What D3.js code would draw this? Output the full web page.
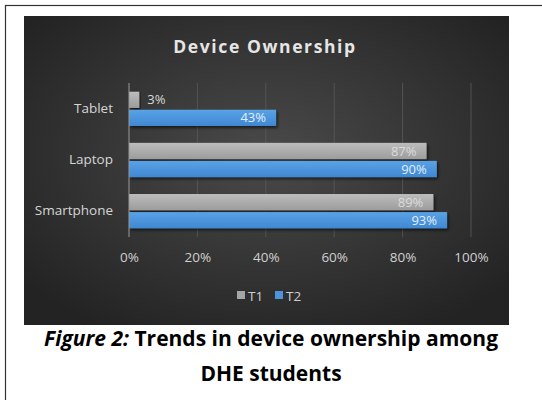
<!DOCTYPE html>
<html>
<head>
<meta charset="utf-8">
<script src="https://cdn.jsdelivr.net/npm/d3@7"></script>
<style>
  html, body { margin: 0; padding: 0; background: #fff; }
  svg { display: block; }
</style>
</head>
<body>
<div id="chart"></div>
<script>
// Data
const categories = ["Tablet", "Laptop", "Smartphone"];
const seriesNames = ["T1", "T2"];
const t1Values = [0.03, 0.87, 0.89];
const t2Values = [0.43, 0.90, 0.93];
const tickValues = [0, 0.2, 0.4, 0.6, 0.8, 1.0];

const width = 542, height = 400;
const colors = { T1: "#a5a5a5", T2: "#4b94dc" };

const rows = categories.map((c, i) => ({ category: c, T1: t1Values[i], T2: t2Values[i] }));

const svg = d3.select("#chart").append("svg")
    .attr("width", width)
    .attr("height", height)
    .attr("font-family", "'Open Sans', sans-serif");

const defs = svg.append("defs");

// dark chart background
const bg = defs.append("radialGradient")
    .attr("id", "bg").attr("cx", "50%").attr("cy", "45%").attr("r", "65%");
bg.append("stop").attr("offset", "0%").attr("stop-color", "#4a4a4a");
bg.append("stop").attr("offset", "100%").attr("stop-color", "#232323");

const gT1 = defs.append("linearGradient").attr("id", "gT1").attr("x1", 0).attr("x2", 0).attr("y1", 0).attr("y2", 1);
gT1.append("stop").attr("offset", "0%").attr("stop-color", "#bdbdbd");
gT1.append("stop").attr("offset", "100%").attr("stop-color", "#9c9c9c");
const gT2 = defs.append("linearGradient").attr("id", "gT2").attr("x1", 0).attr("x2", 0).attr("y1", 0).attr("y2", 1);
gT2.append("stop").attr("offset", "0%").attr("stop-color", "#5aa2e6");
gT2.append("stop").attr("offset", "100%").attr("stop-color", "#3f88d2");

const shadow = defs.append("filter").attr("id", "shadow")
    .attr("x", "-5%").attr("y", "-20%").attr("width", "115%").attr("height", "160%");
shadow.append("feDropShadow")
    .attr("dx", 1.5).attr("dy", 2).attr("stdDeviation", 1.5)
    .attr("flood-color", "#000").attr("flood-opacity", 0.6);

// page frame (top + left edges visible)
svg.append("rect")
    .attr("x", 5.5).attr("y", 5.5)
    .attr("width", width + 10).attr("height", height + 10)
    .attr("fill", "#fff").attr("stroke", "#333").attr("stroke-width", 1.2);

// chart area
svg.append("rect")
    .attr("x", 24).attr("y", 16)
    .attr("width", 485).attr("height", 309)
    .attr("fill", "url(#bg)");

svg.append("text")
    .attr("x", 265).attr("y", 53)
    .attr("text-anchor", "middle")
    .attr("font-size", 17.5)
    .attr("font-weight", 700)
    .attr("letter-spacing", 1.6)
    .attr("fill", "#e6e6e6")
    .text("Device Ownership");

// Scales
const x = d3.scaleLinear().domain([0, 1]).range([129, 471]);
const y = d3.scaleBand().domain(categories).range([83, 237]).paddingInner(0.33).paddingOuter(0.17);
const ySub = d3.scaleBand().domain(seriesNames).range([0, y.bandwidth()]).paddingInner(0.1);

// gridlines
svg.append("g")
    .selectAll("line")
    .data(tickValues.slice(1))
    .join("line")
    .attr("x1", d => x(d)).attr("x2", d => x(d))
    .attr("y1", 83).attr("y2", 237)
    .attr("stroke", "#5a5a5a").attr("stroke-width", 0.8);

// x axis tick labels
const xAxis = svg.append("g")
    .attr("transform", "translate(0,237)")
    .call(d3.axisBottom(x).tickValues(tickValues).tickFormat(d3.format(".0%")).tickSize(0).tickPadding(15));
xAxis.select(".domain").remove();
xAxis.selectAll("text")
    .attr("font-size", 13.5)
    .attr("font-family", "'Open Sans', sans-serif")
    .attr("fill", "#d0d0d0");

// y axis labels
const yAxis = svg.append("g")
    .attr("transform", "translate(113,0)")
    .call(d3.axisLeft(y).tickSize(0).tickPadding(0));
yAxis.select(".domain").remove();
yAxis.selectAll("text")
    .attr("font-size", 13.5)
    .attr("font-family", "'Open Sans', sans-serif")
    .attr("fill", "#d6d6d6");

// bars
const group = svg.append("g")
    .selectAll("g")
    .data(rows)
    .join("g")
    .attr("transform", d => `translate(0,${y(d.category)})`);

const bars = group.selectAll("g")
    .data(d => seriesNames.map(k => ({ key: k, value: d[k] })))
    .join("g");

bars.append("rect")
    .attr("x", x(0))
    .attr("y", d => ySub(d.key))
    .attr("width", d => x(d.value) - x(0))
    .attr("height", ySub.bandwidth())
    .attr("fill", d => `url(#g${d.key})`)
    .attr("filter", "url(#shadow)");

// value labels: inside end unless the bar is too short
bars.append("text")
    .attr("x", d => {
        const w = x(d.value) - x(0);
        return w < 40 ? x(d.value) + 8 : x(d.value) - 10;
    })
    .attr("y", d => ySub(d.key) + ySub.bandwidth() / 2)
    .attr("dy", "0.35em")
    .attr("text-anchor", d => (x(d.value) - x(0) < 40 ? "start" : "end"))
    .attr("font-size", 13)
    .attr("fill", d => {
        if (x(d.value) - x(0) < 40) return "#d8d8d8";
        return d.key === "T1" ? "#e4e4e4" : "#e3eefa";
    })
    .attr("fill-opacity", d => (d.key === "T1" && x(d.value) - x(0) >= 40 ? 0.85 : 1))
    .text(d => d3.format(".0%")(d.value));

// axis line at 0
svg.append("line")
    .attr("x1", x(0)).attr("x2", x(0))
    .attr("y1", 83).attr("y2", 237)
    .attr("stroke", "#9a9a9a").attr("stroke-width", 1);

// legend
const legend = svg.append("g")
    .attr("transform", "translate(237,296)")
    .selectAll("g")
    .data(seriesNames)
    .join("g")
    .attr("transform", (d, i) => `translate(${i * 38},0)`);
legend.append("rect")
    .attr("x", 0).attr("y", -5)
    .attr("width", 8).attr("height", 8)
    .attr("fill", d => colors[d]);
legend.append("text")
    .attr("x", 11).attr("y", 0)
    .attr("dy", "0.35em")
    .attr("font-size", 13.5)
    .attr("fill", "#d0d0d0")
    .text(d => d);

// caption
const caption = svg.append("text")
    .attr("text-anchor", "middle")
    .attr("font-size", 21)
    .attr("font-weight", 700)
    .attr("fill", "#000");
caption.append("tspan")
    .attr("x", 271).attr("y", 346)
    .attr("font-style", "italic")
    .text("Figure 2:");
caption.append("tspan")
    .text(" Trends in device ownership among");
caption.append("tspan")
    .attr("x", 271).attr("y", 381)
    .text("DHE students");
</script>
</body>
</html>
